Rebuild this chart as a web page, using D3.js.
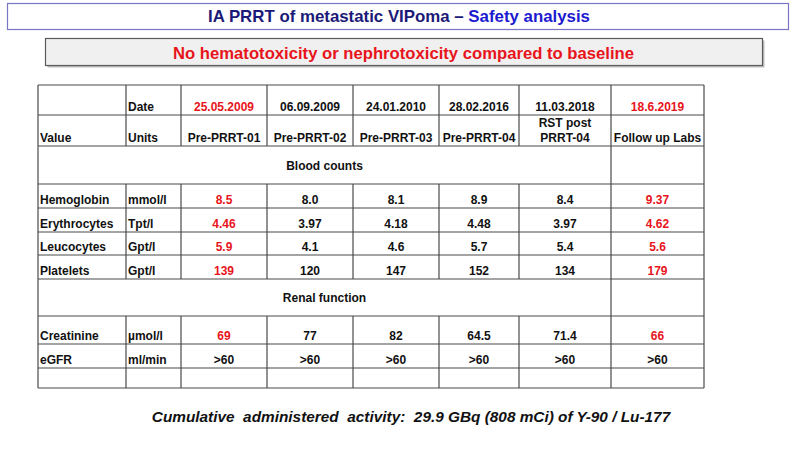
<!DOCTYPE html>
<html lang="en">
<head>
    <meta charset="UTF-8">
    <title>IA PRRT of metastatic VIPoma – Safety analysis</title>
    <script src="https://d3js.org/d3.v7.min.js"></script>
    <style>
        body {
            margin: 0;
            padding: 0;
            background: #fff;
        }

        svg {
            display: block;
            font-family: "Liberation Sans", Arial, sans-serif;
        }

        .cell {
            font-size: 12px;
            font-weight: bold;
        }
    </style>
</head>
<body>
    <svg id="chart" width="800" height="450"></svg>

    <script>
        // table content
        const dates = ["25.05.2009", "06.09.2009", "24.01.2010", "28.02.2016", "11.03.2018", "18.6.2019"];
        const visits = ["Pre-PRRT-01", "Pre-PRRT-02", "Pre-PRRT-03", "Pre-PRRT-04", "RST post|PRRT-04", "Follow up Labs"];
        const redColumns = [0, 5];  // baseline and follow up are highlighted

        const bloodParams = ["Hemoglobin", "Erythrocytes", "Leucocytes", "Platelets"];
        const bloodUnits = ["mmol/l", "Tpt/l", "Gpt/l", "Gpt/l"];
        const hemoglobin = ["8.5", "8.0", "8.1", "8.9", "8.4", "9.37"];
        const erythrocytes = ["4.46", "3.97", "4.18", "4.48", "3.97", "4.62"];
        const leucocytes = ["5.9", "4.1", "4.6", "5.7", "5.4", "5.6"];
        const platelets = ["139", "120", "147", "152", "134", "179"];

        const renalParams = ["Creatinine", "eGFR"];
        const renalUnits = ["µmol/l", "ml/min"];
        const creatinine = ["69", "77", "82", "64.5", "71.4", "66"];
        const egfr = [">60", ">60", ">60", ">60", ">60", ">60"];

        // layout of the grid (pixels)
        const colWidths = [88, 55, 86, 86, 86, 80, 92, 93];
        const rowHeights = [30, 31, 38, 24, 24, 23, 24, 37, 28, 24, 20];
        const tableLeft = 38, tableTop = 85;

        const colEdges = [tableLeft, ...d3.cumsum(colWidths).map(v => tableLeft + v)];
        const rowEdges = [tableTop, ...d3.cumsum(rowHeights).map(v => tableTop + v)];

        const x = d3.scaleOrdinal().domain(d3.range(colEdges.length)).range(colEdges);
        const y = d3.scaleOrdinal().domain(d3.range(rowEdges.length)).range(rowEdges);

        const RED = "#e8141b";
        const INK = "#111";

        const svg = d3.select("#chart");

        // ---- title boxes
        svg.append("rect")
            .attr("x", 7.5).attr("y", 3.5)
            .attr("width", 781).attr("height", 26)
            .attr("fill", "#fff")
            .attr("stroke", "#7a76c4")
            .attr("stroke-width", 1.2);

        const title = svg.append("text")
            .attr("x", 399).attr("y", 22)
            .attr("text-anchor", "middle")
            .attr("font-size", 17)
            .attr("font-weight", "bold")
            .attr("textLength", 382)
            .attr("lengthAdjust", "spacingAndGlyphs");
        title.append("tspan").attr("fill", "#1b1a78").text("IA PRRT of metastatic VIPoma – ");
        title.append("tspan").attr("fill", "#1c1ad0").text("Safety analysis");

        // subtitle box with a soft shadow
        svg.append("rect")
            .attr("x", 47.5).attr("y", 40.5)
            .attr("width", 717).attr("height", 27)
            .attr("fill", "#bdbdbd");
        svg.append("rect")
            .attr("x", 45.5).attr("y", 38.5)
            .attr("width", 717).attr("height", 27)
            .attr("fill", "#f0f0f0")
            .attr("stroke", "#5a5a5a")
            .attr("stroke-width", 1.2);

        svg.append("text")
            .attr("x", 403.5).attr("y", 58.5)
            .attr("text-anchor", "middle")
            .attr("font-size", 17)
            .attr("font-weight", "bold")
            .attr("fill", RED)
            .attr("textLength", 461)
            .attr("lengthAdjust", "spacingAndGlyphs")
            .text("No hematotoxicity or nephrotoxicity compared to baseline");

        // ---- table grid
        const grid = svg.append("g")
            .attr("stroke", "#4a4a4a")
            .attr("stroke-width", 1.2)
            .attr("fill", "none");

        // section rows (blood counts, renal function) merge columns 0..6
        const sectionRows = [2, 7];

        // horizontal lines
        grid.selectAll("line.h")
            .data(d3.range(rowEdges.length))
            .join("line")
            .attr("class", "h")
            .attr("x1", x(0)).attr("x2", x(colEdges.length - 1))
            .attr("y1", d => y(d)).attr("y2", d => y(d));

        // vertical lines, broken inside the merged section rows
        const vSegments = [];
        d3.range(colEdges.length).forEach(c => {
            d3.range(rowHeights.length).forEach(r => {
                const merged = sectionRows.includes(r) && c > 0 && c < 7;
                if (!merged) vSegments.push({ c, r });
            });
        });
        grid.selectAll("line.v")
            .data(vSegments)
            .join("line")
            .attr("class", "v")
            .attr("x1", d => x(d.c)).attr("x2", d => x(d.c))
            .attr("y1", d => y(d.r)).attr("y2", d => y(d.r + 1));

        // ---- cell text
        const cells = [];
        const colMid = c => (x(c) + x(c + 1)) / 2;
        const baseline = r => y(r + 1) - 4;

        // header rows
        cells.push({ c: 1, r: 0, text: "Date", anchor: "start" });
        cells.push({ c: 0, r: 1, text: "Value", anchor: "start" });
        cells.push({ c: 1, r: 1, text: "Units", anchor: "start" });
        dates.forEach((d, i) => cells.push({ c: i + 2, r: 0, text: d, red: redColumns.includes(i) }));
        visits.forEach((v, i) => cells.push({ c: i + 2, r: 1, text: v }));

        // blood counts
        const bloodValues = [hemoglobin, erythrocytes, leucocytes, platelets];
        bloodParams.forEach((p, k) => {
            const r = 3 + k;
            cells.push({ c: 0, r, text: p, anchor: "start" });
            cells.push({ c: 1, r, text: bloodUnits[k], anchor: "start" });
            bloodValues[k].forEach((v, i) => cells.push({ c: i + 2, r, text: v, red: redColumns.includes(i) }));
        });

        // renal function
        const renalValues = [creatinine, egfr];
        renalParams.forEach((p, k) => {
            const r = 8 + k;
            cells.push({ c: 0, r, text: p, anchor: "start" });
            cells.push({ c: 1, r, text: renalUnits[k], anchor: "start" });
            renalValues[k].forEach((v, i) => {
                const red = redColumns.includes(i) && p === "Creatinine";
                cells.push({ c: i + 2, r, text: v, red });
            });
        });

        const cellText = svg.append("g")
            .selectAll("text")
            .data(cells)
            .join("text")
            .attr("class", "cell")
            .attr("fill", d => d.red ? RED : INK)
            .attr("text-anchor", d => d.anchor || "middle")
            .attr("x", d => d.anchor === "start" ? x(d.c) + 2 : colMid(d.c))
            .attr("y", d => baseline(d.r));

        // multi-line cells use "|" as a break
        cellText.each(function (d) {
            const lines = d.text.split("|");
            const t = d3.select(this);
            lines.forEach((line, j) => {
                t.append("tspan")
                    .attr("x", d.anchor === "start" ? x(d.c) + 2 : colMid(d.c))
                    .attr("dy", j === 0 ? -(lines.length - 1) * 15.5 : 15.5)
                    .text(line);
            });
        });

        // section captions, centred across the merged cells
        const sections = ["Blood counts", "Renal function"];
        svg.append("g")
            .selectAll("text")
            .data(sections)
            .join("text")
            .attr("class", "cell")
            .attr("fill", INK)
            .attr("text-anchor", "middle")
            .attr("x", (x(0) + x(7)) / 2)
            .attr("y", (d, i) => (y(sectionRows[i]) + y(sectionRows[i] + 1)) / 2 + 4.5)
            .text(d => d);

        // ---- footnote, sized so it spans the same width as on the slide
        const footWidth = 519;
        const foot = svg.append("text")
            .attr("x", 411).attr("y", 421.5)
            .attr("text-anchor", "middle")
            .attr("font-size", 15)
            .attr("font-weight", "bold")
            .attr("font-style", "italic")
            .attr("fill", INK)
            .style("white-space", "pre")
            .text("Cumulative  administered  activity:  29.9 GBq (808 mCi) of Y-90 / Lu-177");
        const measured = foot.node().getComputedTextLength();
        if (measured > 0) foot.attr("font-size", 15 * footWidth / measured);
    </script>
</body>
</html>
